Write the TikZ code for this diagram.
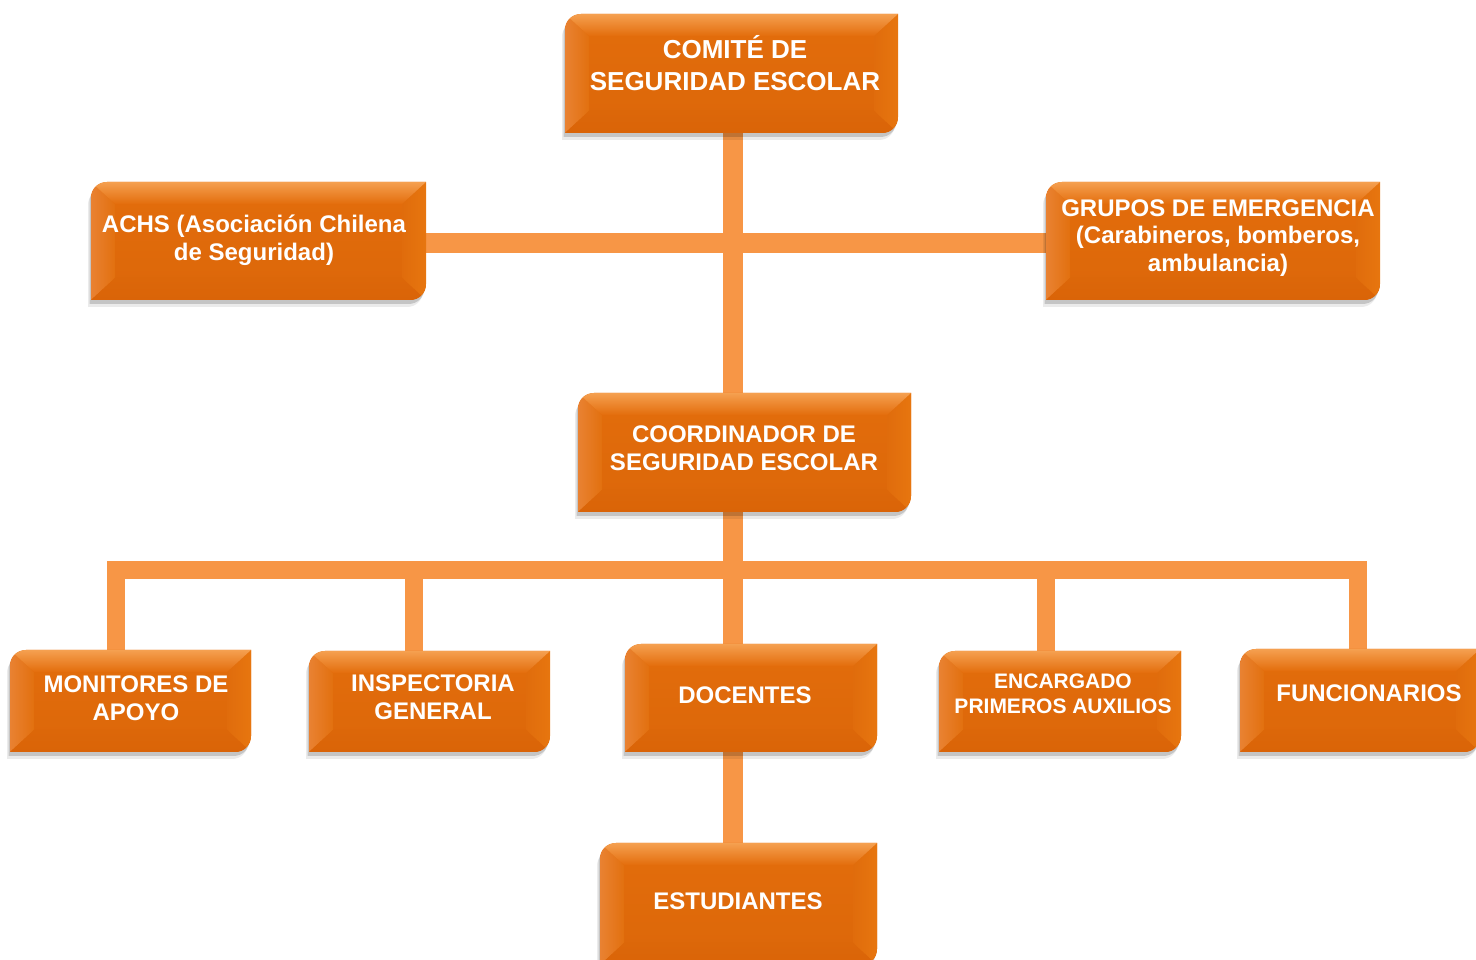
\documentclass[tikz,border=0pt]{standalone}
\usepackage{fontspec}
\setmainfont{Liberation Sans}
\pgfdeclarelayer{bars}
\pgfdeclarelayer{boxes}
\pgfsetlayers{bars,boxes,main}
\definecolor{barc}{HTML}{F79646}
\definecolor{basec}{HTML}{E36D0C}
\definecolor{basebot}{HTML}{DC6709}
\definecolor{topc}{HTML}{F5A050}
\definecolor{leftout}{HTML}{E98232}
\definecolor{leftin}{HTML}{E2700F}
\definecolor{rightout}{HTML}{E7760F}
\definecolor{rightin}{HTML}{E06C0C}
\definecolor{botc}{HTML}{DA6408}
\newcommand\bxpath[3]{([xshift=#2,yshift=#3-16pt]#1.north west) .. controls ([xshift=#2,yshift=#3-7pt]#1.north west) and ([xshift=#2+7pt,yshift=#3]#1.north west) .. ([xshift=#2+16pt,yshift=#3]#1.north west) -- ([xshift=#2,yshift=#3]#1.north east) -- ([xshift=#2,yshift=#3+16pt]#1.south east) .. controls ([xshift=#2,yshift=#3+7pt]#1.south east) and ([xshift=#2-7pt,yshift=#3]#1.south east) .. ([xshift=#2-16pt,yshift=#3]#1.south east) -- ([xshift=#2,yshift=#3]#1.south west) -- cycle}
\newcommand\bevelbox[1]{%
\begin{pgfonlayer}{boxes}
\fill[black,opacity=.08] \bxpath{#1}{-3pt}{-7pt};
\fill[black,opacity=.16] \bxpath{#1}{-1.5pt}{-4pt};
\begin{scope}
\clip \bxpath{#1}{0pt}{0pt};
\shade[top color=basec, bottom color=basebot] (#1.south west) rectangle (#1.north east);
\shade[left color=leftout, right color=leftin] (#1.north west) -- ([xshift=24pt,yshift=-22pt]#1.north west) -- ([xshift=24pt,yshift=22pt]#1.south west) -- (#1.south west) -- cycle;
\shade[left color=rightin, right color=rightout] (#1.north east) -- ([xshift=-24pt,yshift=-22pt]#1.north east) -- ([xshift=-24pt,yshift=22pt]#1.south east) -- (#1.south east) -- cycle;
\shade[top color=basebot, bottom color=botc] (#1.south west) -- ([xshift=24pt,yshift=22pt]#1.south west) -- ([xshift=-24pt,yshift=22pt]#1.south east) -- (#1.south east) -- cycle;
\shade[top color=topc, bottom color=basec] (#1.north west) -- (#1.north east) -- ([xshift=-24pt,yshift=-22pt]#1.north east) -- ([xshift=24pt,yshift=-22pt]#1.north west) -- cycle;
\end{scope}
\end{pgfonlayer}}
\newcommand\fntA{\fontsize{26}{32}\selectfont\bfseries}
\newcommand\fntB{\fontsize{24}{28}\selectfont\bfseries}
\newcommand\fntC{\fontsize{21}{25}\selectfont\bfseries}
\tikzset{
  boxnode/.style={draw=none, inner sep=0pt, outer sep=0pt},
  txt/.style={text=white, align=center, inner sep=0pt, font=\fntB},
  bar/.style={draw=barc, line width=20pt, line cap=butt},
  bus/.style={draw=barc, line width=18pt, line cap=butt, line join=miter}
}
\begin{document}
\begin{tikzpicture}[x=1pt,y=1pt]
\useasboundingbox (0,0) rectangle (1476,959);
% boxes
\node[boxnode, minimum width=333pt, minimum height=119pt] (comite) at (731.5,885.5) {};
\node[boxnode, minimum width=335pt, minimum height=118pt] (achs) at (258.5,718) {};
\node[boxnode, minimum width=334pt, minimum height=118pt] (grupos) at (1213,718) {};
\node[boxnode, minimum width=333pt, minimum height=119pt] (coord) at (744.5,506.5) {};
\node[boxnode, minimum width=241pt, minimum height=102pt] (mon) at (130.5,258) {};
\node[boxnode, minimum width=241pt, minimum height=101pt] (ins) at (429.5,257.5) {};
\node[boxnode, minimum width=252pt, minimum height=108pt] (doc) at (751,261) {};
\node[boxnode, minimum width=242pt, minimum height=101pt] (enc) at (1060,257.5) {};
\node[boxnode, minimum width=240pt, minimum height=103pt] (fun) at (1360,258.5) {};
\node[boxnode, minimum width=277pt, minimum height=122pt] (est) at (738.5,55) {};
\bevelbox{comite}\bevelbox{achs}\bevelbox{grupos}\bevelbox{coord}
\bevelbox{mon}\bevelbox{ins}\bevelbox{doc}\bevelbox{enc}\bevelbox{fun}\bevelbox{est}
% texts
\node[txt, font=\fntA] (comite-t) at (735,896) {COMITÉ DE\\SEGURIDAD ESCOLAR};
\node[txt] (achs-t) at (254,719) {ACHS (Asociación Chilena\\de Seguridad)};
\node[txt, font=\fontsize{24}{27.5}\selectfont\bfseries] (grupos-t) at (1218,721) {GRUPOS DE EMERGENCIA\\(Carabineros, bomberos,\\ambulancia)};
\node[txt] (coord-t) at (744,510.5) {COORDINADOR DE\\SEGURIDAD ESCOLAR};
\node[txt] (mon-t) at (136,261) {MONITORES DE\\APOYO};
\node[txt] (ins-t) at (433,262) {INSPECTORIA\\GENERAL};
\node[txt] (doc-t) at (745,264) {DOCENTES};
\node[txt, font=\fntC] (enc-t) at (1063,265) {ENCARGADO\\PRIMEROS AUXILIOS};
\node[txt] (fun-t) at (1369,266) {FUNCIONARIOS};
\node[txt] (est-t) at (738,58) {ESTUDIANTES};
% connectors
\coordinate (trunk) at (733,0);
\coordinate (hb) at (0,716);
\coordinate (bm) at (116,389);
\coordinate (bi) at (413.5,389);
\coordinate (be) at (1045.5,389);
\coordinate (bf) at (1358,389);
\begin{pgfonlayer}{bars}
\draw[bar] (comite.south -| trunk) -- (coord.north -| trunk);
\draw[bar] (achs.east |- hb) -- (grupos.west |- hb);
\draw[bar] (coord.south -| trunk) -- (doc.north -| trunk);
\draw[bar] (doc.south -| trunk) -- (est.north -| trunk);
\draw[bus] (mon.north -| bm) -- (bm) -- (bf) -- (fun.north -| bf);
\draw[bus] (ins.north -| bi) -- (bi);
\draw[bus] (enc.north -| be) -- (be);
\end{pgfonlayer}
\end{tikzpicture}
\end{document}
